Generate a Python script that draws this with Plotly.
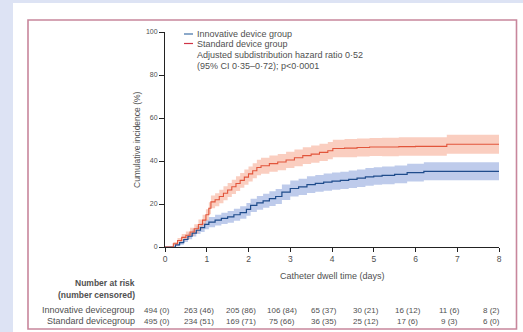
import plotly.graph_objects as go

# ---------------- data ----------------
std_t = [0, 0.12, 0.2, 0.3, 0.4, 0.5, 0.6, 0.7, 0.8, 0.9, 0.98, 1.05, 1.1, 1.2, 1.3, 1.4, 1.5, 1.6, 1.7, 1.8,
         1.9, 2.0, 2.1, 2.2, 2.3, 2.5, 2.7, 2.9, 3.1, 3.3, 3.5, 3.7, 3.9, 4.02, 4.3, 4.6, 4.9, 5.2, 5.6, 6.0,
         6.5, 6.75, 7.2, 8.0]
std_v = [0, 0, 1.5, 3, 4.5, 5.5, 7, 8.5, 10.5, 12.5, 15, 18, 21, 22, 23.5, 25, 26.5, 28, 29.5, 31,
         32.5, 34, 35.5, 37, 37.8, 38.8, 39.5, 40.5, 41.5, 42.5, 43.2, 44, 44.8, 45.8, 46, 46.3, 46.5, 46.5, 46.7, 46.8,
         46.8, 47.8, 47.8, 47.8]
std_lo = [0, 0, 0.7, 1.8, 3.0, 3.8, 5.1, 6.4, 8.2, 10.0, 12.4, 15.2, 18.0, 19.0, 20.4, 21.8, 23.2, 24.7, 26.1, 27.6,
          29.0, 30.5, 32.0, 33.4, 34.1, 35.0, 35.7, 36.7, 37.6, 38.6, 39.2, 40.0, 40.8, 41.7, 41.8, 42.1, 42.3, 42.2, 42.4, 42.5,
          42.5, 43.4, 43.4, 43.4]
std_hi = [0, 0, 2.3, 4.2, 6.0, 7.2, 8.9, 10.6, 12.8, 15.0, 17.6, 20.8, 24.0, 25.0, 26.6, 28.2, 29.8, 31.3, 32.9, 34.4,
          36.0, 37.5, 39.0, 40.6, 41.5, 42.6, 43.3, 44.3, 45.4, 46.4, 47.2, 48.0, 48.8, 49.9, 50.2, 50.5, 50.7, 50.8, 51.0, 51.1,
          51.1, 52.2, 52.2, 52.2]

inn_t = [0, 0.15, 0.25, 0.35, 0.45, 0.55, 0.65, 0.75, 0.85, 0.95, 1.05, 1.2, 1.35, 1.5, 1.65, 1.8, 1.95, 2.05, 2.2, 2.35,
         2.5, 2.65, 2.8, 3.0, 3.2, 3.4, 3.6, 3.8, 4.0, 4.2, 4.4, 4.6, 4.8, 5.0, 5.2, 5.5, 5.8, 6.0, 6.2, 8.0]
inn_v = [0, 0, 1, 2, 3.5, 5, 6.5, 7.8, 9, 10.5, 11.6, 12.5, 13.3, 14, 15, 16, 17.5, 19.4, 20.5, 21.5,
         22.5, 23.5, 25.5, 27.2, 28, 29, 29.6, 30.2, 30.6, 31, 31.5, 32, 32.6, 33, 33.3, 33.8, 34.6, 34.6, 35.2, 35.2]
inn_lo = [0, 0, 0.3, 1.0, 2.3, 3.6, 4.9, 6.0, 7.0, 8.3, 9.2, 10.0, 10.7, 11.3, 12.2, 13.1, 14.5, 16.3, 17.3, 18.2,
          19.1, 20.0, 21.9, 23.5, 24.2, 25.1, 25.7, 26.2, 26.6, 27.0, 27.4, 27.9, 28.5, 28.9, 29.2, 29.7, 30.5, 30.5, 31.0, 31.0]
inn_hi = [0, 0, 1.7, 3.0, 4.7, 6.4, 8.1, 9.6, 11.0, 12.7, 14.0, 15.0, 15.9, 16.7, 17.8, 18.9, 20.5, 22.5, 23.7, 24.8,
          25.9, 27.0, 29.1, 30.9, 31.8, 32.9, 33.5, 34.2, 34.6, 35.0, 35.6, 36.1, 36.7, 37.1, 37.4, 37.9, 38.7, 38.7, 39.4, 39.4]

risk_times = [0, 1, 2, 3, 4, 5, 6, 7, 8]
risk_innovative = ["494 (0)", "263 (46)", "205 (86)", "106 (84)", "65 (37)", "30 (21)", "16 (12)", "11 (6)", "8 (2)"]
risk_standard = ["495 (0)", "234 (51)", "169 (71)", "75 (66)", "36 (35)", "25 (12)", "17 (6)", "9 (3)", "6 (0)"]

legend_labels = ["Innovative device group", "Standard device group"]
hr_text = ["Adjusted subdistribution hazard ratio 0·52", "(95% CI 0·35–0·72); p<0·0001"]
y_ticks = [0, 20, 40, 60, 80, 100]
x_ticks = [0, 1, 2, 3, 4, 5, 6, 7, 8]

# ---------------- style ----------------
FONT = "Liberation Sans, Arial, sans-serif"
TXT = "#505050"
RED = "#e2553b"
RED_BAND = "rgba(246,165,140,0.55)"
BLUE = "#1f4c8c"
BLUE_BAND = "rgba(125,152,216,0.5)"

W, H = 523, 332
ML, MR, MT, MB = 165, 24, 32, 85
PW, PH = W - ML - MR, H - MT - MB


def px(x):
    return (x - ML) / PW


def py(y):
    return 1 - (y - MT) / PH


fig = go.Figure()

for t, lo, hi, v, band, col in [(inn_t, inn_lo, inn_hi, inn_v, BLUE_BAND, BLUE),
                                 (std_t, std_lo, std_hi, std_v, RED_BAND, RED)]:
    fig.add_trace(go.Scatter(x=t, y=hi, mode="lines", line=dict(width=0, shape="hv"),
                             showlegend=False, hoverinfo="skip"))
    fig.add_trace(go.Scatter(x=t, y=lo, mode="lines", line=dict(width=0, shape="hv"),
                             fill="tonexty", fillcolor=band, showlegend=False, hoverinfo="skip"))

fig.add_trace(go.Scatter(x=inn_t, y=inn_v, mode="lines", line=dict(color=BLUE, width=1.2, shape="hv"),
                         name=legend_labels[0], showlegend=False))
fig.add_trace(go.Scatter(x=std_t, y=std_v, mode="lines", line=dict(color=RED, width=1.1, shape="hv"),
                         name=legend_labels[1], showlegend=False))

shapes = [
    # white panel over lavender background
    dict(type="rect", xref="paper", yref="paper", x0=px(13), x1=px(W + 5), y0=py(H + 5), y1=py(3),
         fillcolor="white", line=dict(width=0), layer="below"),
    # pink frame
    dict(type="rect", xref="paper", yref="paper", x0=px(28), x1=px(516.5), y0=py(329), y1=py(20),
         fillcolor="rgba(0,0,0,0)", line=dict(color="#c8869c", width=1.6), layer="below"),
    # legend line samples
    dict(type="line", xref="paper", yref="paper", x0=px(184), x1=px(193), y0=py(34), y1=py(34),
         line=dict(color="#3f6fa6", width=1.2)),
    dict(type="line", xref="paper", yref="paper", x0=px(184), x1=px(193), y0=py(43.5), y1=py(43.5),
         line=dict(color="#d03446", width=1.2)),
]

ann = []
for yy, txt in [(34, legend_labels[0]), (43.5, legend_labels[1]), (55, hr_text[0]), (66, hr_text[1])]:
    ann.append(dict(xref="paper", yref="paper", x=px(195), y=py(yy), text=txt, showarrow=False,
                    xanchor="left", yanchor="middle", font=dict(size=9, color=TXT, family=FONT)))

# axis titles
ann.append(dict(xref="paper", yref="paper", x=0.5, y=py(276), text="Catheter dwell time (days)", showarrow=False,
                xanchor="center", yanchor="middle", font=dict(size=9, color=TXT, family=FONT)))
ann.append(dict(xref="paper", yref="paper", x=px(137), y=py(140), text="Cumulative incidence (%)", showarrow=False,
                textangle=-90, xanchor="center", yanchor="middle", font=dict(size=8.5, color=TXT, family=FONT)))

# number at risk table
ann.append(dict(xref="paper", yref="paper", x=px(137), y=py(283), text="<b>Number at risk</b>", showarrow=False,
                xanchor="right", yanchor="middle", font=dict(size=8.5, color=TXT, family=FONT)))
ann.append(dict(xref="paper", yref="paper", x=px(137), y=py(295), text="<b>(number censored)</b>", showarrow=False,
                xanchor="right", yanchor="middle", font=dict(size=8.5, color=TXT, family=FONT)))
ann.append(dict(xref="paper", yref="paper", x=px(137), y=py(310), text="Innovative devicegroup", showarrow=False,
                xanchor="right", yanchor="middle", font=dict(size=9, color=TXT, family=FONT)))
ann.append(dict(xref="paper", yref="paper", x=px(137), y=py(321), text="Standard devicegroup", showarrow=False,
                xanchor="right", yanchor="middle", font=dict(size=9, color=TXT, family=FONT)))
for t, a, b in zip(risk_times, risk_innovative, risk_standard):
    ann.append(dict(xref="x", yref="paper", x=t, y=py(310), text=a, showarrow=False, xshift=-8,
                    xanchor="center", yanchor="middle", font=dict(size=8, color=TXT, family=FONT)))
    ann.append(dict(xref="x", yref="paper", x=t, y=py(321), text=b, showarrow=False, xshift=-8,
                    xanchor="center", yanchor="middle", font=dict(size=8, color=TXT, family=FONT)))

fig.update_layout(
    width=W, height=H,
    margin=dict(l=ML, r=MR, t=MT, b=MB),
    paper_bgcolor="#dde3f4",
    plot_bgcolor="white",
    shapes=shapes,
    annotations=ann,
    showlegend=False,
    xaxis=dict(range=[0, 8], tickvals=x_ticks, showgrid=False, zeroline=False, showline=True,
               linecolor="#222", linewidth=1, ticks="outside", ticklen=4, tickcolor="#222",
               tickfont=dict(size=8.5, color=TXT, family=FONT)),
    yaxis=dict(range=[0, 100], tickvals=y_ticks, showgrid=False, zeroline=False, showline=True,
               linecolor="#222", linewidth=1, ticks="outside", ticklen=5, tickcolor="#222",
               tickfont=dict(size=7, color=TXT, family=FONT)),
)

fig.write_html("out.html", config={"displayModeBar": False},
               post_script="document.body.style.margin='0';document.body.style.padding='0';"
                           "document.body.style.overflow='hidden';"
                           "document.documentElement.style.overflow='hidden';")
